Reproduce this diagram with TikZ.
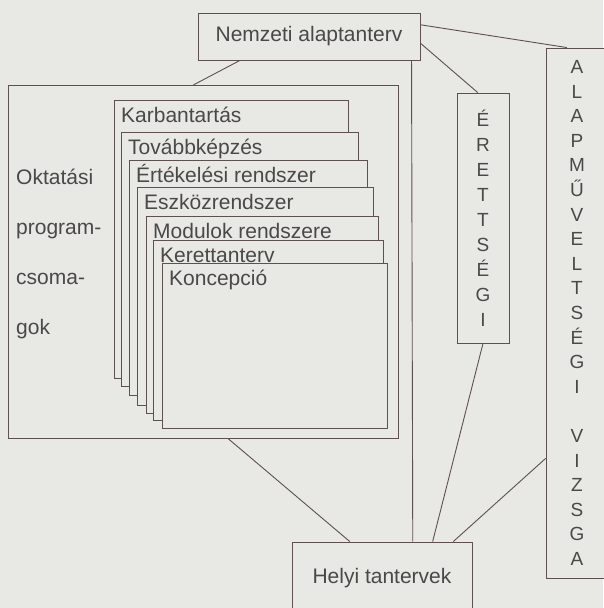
\documentclass[tikz,border=0pt]{standalone}
\usepackage{fontspec}
\setmainfont{Liberation Sans}
\usetikzlibrary{calc}
\definecolor{paper}{RGB}{232,232,229}
\definecolor{pencil}{RGB}{95,80,80}
\definecolor{ink}{RGB}{75,72,72}
\tikzset{
  frame/.style={draw=pencil,fill=paper,line width=0.9pt,inner sep=0pt,
    text=ink,font=\fontsize{21}{25}\selectfont},
  card/.style={frame,anchor=north west},
  cardtext/.style={text=ink,inner sep=0pt,anchor=base west,font=\fontsize{21}{25}\selectfont},
  vtext/.style={text=ink,inner sep=0pt,align=center,font=\fontsize{19}{#1}\selectfont},
  vtext/.default=25,
  link/.style={draw=pencil,line width=0.9pt},
}

\begin{document}
\begin{tikzpicture}[x=1pt,y=-1pt]
  \fill[paper] (0,0) rectangle (603,608);
  \useasboundingbox (0,0) rectangle (603,608);
  % main boxes
  \node[frame,minimum width=222pt,minimum height=47pt] (nat) at (309,36.5) {Nemzeti alaptanterv};
  \node[frame,anchor=north west,minimum width=390pt,minimum height=353pt] (pack) at (8,85) {};
  \node[text=ink,inner sep=0pt,align=left,anchor=west,font=\fontsize{21}{50}\selectfont] (packtxt) at (16,254)
    {Oktatási\\program-\\csoma-\\gok};
  % stacked sheets
  \foreach \l/\t/\r/\b/\txt [count=\i] in {114/100/348/378/Karbantartás,121/132/358/386/Továbbképzés,
      129/160/367/395/Értékelési rendszer,137/187/373/405/Eszközrendszer,146/216/378/413/Modulok rendszere,
      153/240/383/420/Kerettanterv,162/263/387/428/Koncepció}{
    \node[card,minimum width={(\r-\l)*1pt},minimum height={(\b-\t)*1pt}] (card\i) at (\l,\t) {};
    \node[cardtext] (cardtxt\i) at ($(card\i.north west)+(7,22)$) {\txt};
  }
  % exams
  \node[frame,vtext,minimum width=52pt,minimum height=250pt] (erett) at (483,218)
    {É\\R\\E\\T\\T\\S\\É\\G\\I};
  \node[frame,minimum width=62pt,minimum height=530pt] (alap) at (577,313) {};
  \node[vtext=24.6] (alaptxt) at (alap.center)
    {A\\L\\A\\P\\M\\Ű\\V\\E\\L\\T\\S\\É\\G\\I\\[24.6pt]V\\I\\Z\\S\\G\\A};
  \node[frame,minimum width=180pt,minimum height=73pt] (helyi) at (382,578.5) {Helyi tantervek};
  % connectors
  \draw[link] ($(nat.south west)!0.19!(nat.south east)$) -- ($(pack.north west)!0.474!(pack.north east)$);
  \draw[link] ($(nat.south west)!0.96!(nat.south east)$) -- ($(helyi.north west)!0.67!(helyi.north east)$);
  \draw[link] ($(nat.north east)!0.255!(nat.south east)$) -- ($(alap.north west)!0.34!(alap.north east)$);
  \draw[link] ($(nat.north east)!0.64!(nat.south east)$) -- ($(erett.north west)!0.4!(erett.north east)$);
  \draw[link] (erett.south) -- ($(helyi.north west)!0.78!(helyi.north east)$);
  \draw[link] ($(alap.north west)!0.774!(alap.south west)$) -- ($(helyi.north west)!0.894!(helyi.north east)$);
  \draw[link] ($(pack.south west)!0.564!(pack.south east)$) -- ($(helyi.north west)!0.322!(helyi.north east)$);
\end{tikzpicture}
\end{document}
